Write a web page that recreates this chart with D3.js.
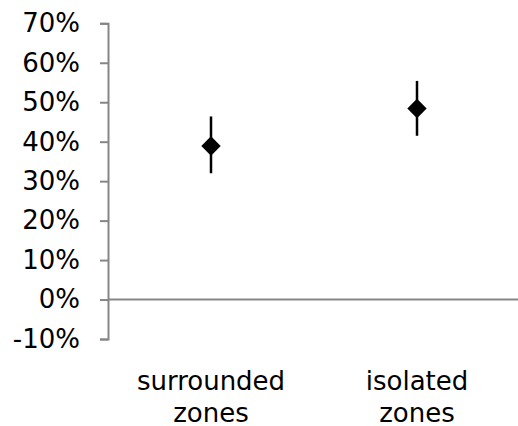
<!DOCTYPE html>
<html>
<head>
<meta charset="utf-8">
<script src="https://cdn.jsdelivr.net/npm/d3@7"></script>
<style>
  html, body { margin: 0; padding: 0; background: #fff; }
  svg { display: block; }
  text { font-family: "DejaVu Sans", Verdana, sans-serif; fill: #000; }
</style>
</head>
<body>
<svg id="chart" width="518" height="426"></svg>
<script>
// Group labels (each split over two lines) and the estimates with their ranges
const categories = ["surrounded zones", "isolated zones"];
const labelLines = [["surrounded", "zones"], ["isolated", "zones"]];
const means = [0.389, 0.484];
const upper = [0.464, 0.554];
const lower = [0.320, 0.415];
const yTicks = [-0.1, 0, 0.1, 0.2, 0.3, 0.4, 0.5, 0.6, 0.7];

const svg = d3.select("#chart");
const axisColor = "#868686";
const fontSize = 26;

const plot = { left: 108, right: 520, top: 23.3, bottom: 339 };

const x = d3.scaleBand()
  .domain(categories)
  .range([plot.left, plot.right])
  .padding(0);

const y = d3.scaleLinear()
  .domain([-0.1, 0.7])
  .range([plot.bottom, plot.top]);

// Percent labels with a plain hyphen for negatives
const pct = d => `${Math.round(d * 100)}%`;

// Value axis on the left
const yAxis = d3.axisLeft(y)
  .tickValues(yTicks)
  .tickSize(8)
  .tickSizeOuter(8)
  .tickPadding(20)
  .tickFormat(pct);

const gy = svg.append("g")
  .attr("transform", `translate(${plot.left},0)`)
  .call(yAxis);
gy.select(".domain").attr("stroke", axisColor).attr("stroke-width", 2);
gy.selectAll(".tick line").attr("stroke", axisColor).attr("stroke-width", 2);
gy.selectAll(".tick text")
  .attr("font-size", fontSize)
  .attr("font-family", '"DejaVu Sans", Verdana, sans-serif')
  .attr("fill", "#000");

// Category axis crossing at zero
svg.append("line")
  .attr("x1", plot.left).attr("x2", plot.right)
  .attr("y1", y(0)).attr("y2", y(0))
  .attr("stroke", axisColor).attr("stroke-width", 2);

// Category labels below the plot
const cx = d => x(d) + x.bandwidth() / 2;
const labels = svg.append("g").selectAll("text")
  .data(categories)
  .join("text")
  .attr("text-anchor", "middle")
  .attr("font-size", fontSize)
  .attr("x", d => cx(d))
  .attr("y", 389.5);
labels.each(function(d, i) {
  const t = d3.select(this);
  labelLines[i].forEach((line, j) => {
    t.append("tspan")
      .attr("x", cx(d))
      .attr("dy", j === 0 ? 0 : 32)
      .text(line);
  });
});

// Error bars
const pts = categories.map((c, i) => ({ c, m: means[i], hi: upper[i], lo: lower[i] }));
svg.append("g").selectAll("line")
  .data(pts)
  .join("line")
  .attr("x1", d => cx(d.c)).attr("x2", d => cx(d.c))
  .attr("y1", d => y(d.hi)).attr("y2", d => y(d.lo))
  .attr("stroke", "#000").attr("stroke-width", 2.5);

// Diamond markers
const diamond = d3.symbol().type(d3.symbolDiamond2).size(240);
svg.append("g").selectAll("path")
  .data(pts)
  .join("path")
  .attr("d", diamond)
  .attr("transform", d => `translate(${cx(d.c)},${y(d.m)})`)
  .attr("fill", "#000");
</script>
</body>
</html>
